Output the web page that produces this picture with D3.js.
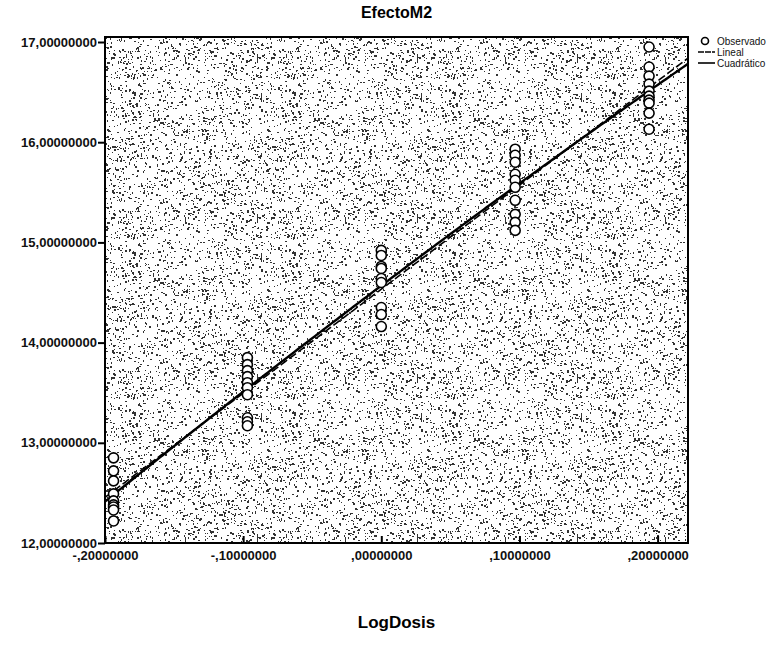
<!DOCTYPE html>
<html lang="es">
<head>
  <meta charset="UTF-8">
  <title>EfectoM2</title>
  <script src="https://d3js.org/d3.v7.min.js"></script>
  <style>
    body { margin: 0; background: #fff; }
    svg { display: block; font-family: "Liberation Sans", Arial, sans-serif; }
    .tick text { font-size: 13px; font-weight: bold; fill: #111; }
  </style>
</head>
<body>
  <script>
    // LogDosis levels (log10 of doses in ratio 1.25)
    const dosisLevels = [-0.19382, -0.09691, 0, 0.09691, 0.19382];

    const obsLevel1 = [12.85, 12.72, 12.62, 12.49, 12.42, 12.38, 12.36, 12.33, 12.22];
    const obsLevel2 = [13.85, 13.78, 13.72, 13.66, 13.60, 13.55, 13.48, 13.25, 13.21, 13.17];
    const obsLevel3 = [14.92, 14.87, 14.76, 14.74, 14.64, 14.60, 14.35, 14.28, 14.16];
    const obsLevel4 = [15.93, 15.87, 15.80, 15.68, 15.62, 15.55, 15.42, 15.28, 15.20, 15.12];
    const obsLevel5 = [16.95, 16.75, 16.66, 16.58, 16.51, 16.46, 16.42, 16.39, 16.29, 16.13];

    const xTicks = [-0.2, -0.1, 0, 0.1, 0.2];
    const yTicks = [12, 13, 14, 15, 16, 17];
    const legendLabels = ["Observado", "Lineal", "Cuadrático"];

    const points = [];
    [obsLevel1, obsLevel2, obsLevel3, obsLevel4, obsLevel5].forEach((vals, i) => {
      vals.forEach(v => points.push({ x: dosisLevels[i], y: v }));
    });

    const width = 778, height = 654;
    const margin = { top: 37, right: 90, bottom: 111, left: 105 };
    const innerW = width - margin.left - margin.right;
    const innerH = height - margin.top - margin.bottom;

    const x = d3.scaleLinear().domain([-0.2, 0.222]).range([0, innerW]);
    const y = d3.scaleLinear().domain([12, 17.05]).range([innerH, 0]);

    const fmt = d => {
      const s = Math.abs(d).toFixed(8).replace(".", ",");
      const t = Math.abs(d) < 1 ? s.replace(/^0/, "") : s;
      return (d < 0 ? "-" : "") + t;
    };

    // least squares fits (linear and quadratic)
    function polyFit(pts, degree) {
      const n = degree + 1;
      const A = Array.from({ length: n }, () => new Array(n + 1).fill(0));
      pts.forEach(p => {
        for (let r = 0; r < n; r++) {
          for (let c = 0; c < n; c++) A[r][c] += Math.pow(p.x, r + c);
          A[r][n] += p.y * Math.pow(p.x, r);
        }
      });
      for (let i = 0; i < n; i++) {
        for (let k = i + 1; k < n; k++) {
          const f = A[k][i] / A[i][i];
          for (let j = i; j <= n; j++) A[k][j] -= f * A[i][j];
        }
      }
      const coef = new Array(n).fill(0);
      for (let i = n - 1; i >= 0; i--) {
        let s = A[i][n];
        for (let j = i + 1; j < n; j++) s -= A[i][j] * coef[j];
        coef[i] = s / A[i][i];
      }
      return xv => coef.reduce((acc, c, i) => acc + c * Math.pow(xv, i), 0);
    }
    const linFit = polyFit(points, 1);
    const quadFit = polyFit(points, 2);

    const svg = d3.select("body").append("svg")
      .attr("width", width)
      .attr("height", height);

    // stipple texture (seeded, so the picture is the same every time)
    const tile = 160;
    const defs = svg.append("defs");
    const pat = defs.append("pattern")
      .attr("id", "stipple")
      .attr("patternUnits", "userSpaceOnUse")
      .attr("width", tile).attr("height", tile);
    pat.append("rect").attr("width", tile).attr("height", tile).attr("fill", "#fff");
    let seed = 987654321;
    function rnd() {
      seed |= 0; seed = seed + 0x6D2B79F5 | 0;
      let t = Math.imul(seed ^ seed >>> 15, 1 | seed);
      t = t + Math.imul(t ^ t >>> 7, 61 | t) ^ t;
      return ((t ^ t >>> 14) >>> 0) / 4294967296;
    }
    let dots = "";
    for (let i = 0; i < 1700; i++) {
      const px = Math.floor(rnd() * tile), py = Math.floor(rnd() * tile);
      const w = rnd() < 0.6 ? 1 : 2, h = rnd() < 0.6 ? 1 : 2;
      dots += `M${px},${py}h${w}v${h}h${-w}z`;
    }
    pat.append("path").attr("d", dots).attr("fill", "#333");

    const g = svg.append("g").attr("transform", `translate(${margin.left},${margin.top})`);

    g.append("rect")
      .attr("width", innerW).attr("height", innerH)
      .attr("fill", "url(#stipple)");

    const clip = defs.append("clipPath").attr("id", "plotClip");
    clip.append("rect").attr("width", innerW).attr("height", innerH);

    const xs = d3.range(-0.2, 0.2221, 0.002);
    const lineGen = f => d3.line().x(d => x(d)).y(d => y(f(d)))(xs);

    const lines = g.append("g").attr("clip-path", "url(#plotClip)");
    lines.append("path")
      .attr("d", lineGen(quadFit))
      .attr("fill", "none").attr("stroke", "#000").attr("stroke-width", 2.4);
    lines.append("path")
      .attr("d", lineGen(linFit))
      .attr("fill", "none").attr("stroke", "#000").attr("stroke-width", 1.6)
      .attr("stroke-dasharray", "8,3");

    g.append("g").selectAll("circle")
      .data(points)
      .enter().append("circle")
      .attr("cx", d => x(d.x))
      .attr("cy", d => y(d.y))
      .attr("r", 5)
      .attr("fill", "#fff")
      .attr("stroke", "#000")
      .attr("stroke-width", 1.6);

    g.append("rect")
      .attr("width", innerW).attr("height", innerH)
      .attr("fill", "none").attr("stroke", "#000").attr("stroke-width", 2);

    const xAxis = g.append("g")
      .attr("transform", `translate(0,${innerH})`)
      .call(d3.axisBottom(x).tickValues(xTicks).tickFormat(fmt).tickSize(7).tickPadding(1));
    xAxis.select(".domain").remove();
    xAxis.selectAll(".tick line").attr("stroke-width", 2).attr("transform", "translate(0,-7)");

    const yAxis = g.append("g")
      .call(d3.axisLeft(y).tickValues(yTicks).tickFormat(fmt).tickSize(7).tickPadding(1));
    yAxis.select(".domain").remove();
    yAxis.selectAll(".tick line").attr("stroke-width", 2);

    svg.append("text")
      .attr("x", margin.left + innerW / 2).attr("y", 18)
      .attr("text-anchor", "middle")
      .attr("font-size", 16).attr("font-weight", "bold")
      .text("EfectoM2");

    svg.append("text")
      .attr("x", margin.left + innerW / 2).attr("y", 628)
      .attr("text-anchor", "middle")
      .attr("font-size", 17).attr("font-weight", "bold")
      .text("LogDosis");

    // legend
    const rowH = 11;
    const lg = svg.append("g").attr("transform", `translate(${margin.left + innerW + 10},41)`);
    lg.append("circle").attr("cx", 7).attr("cy", 0).attr("r", 3.5)
      .attr("fill", "#fff").attr("stroke", "#000").attr("stroke-width", 1.6);
    lg.append("line").attr("x1", 0).attr("x2", 17).attr("y1", rowH).attr("y2", rowH)
      .attr("stroke", "#000").attr("stroke-width", 1.4).attr("stroke-dasharray", "6,1");
    lg.append("line").attr("x1", 0).attr("x2", 17).attr("y1", rowH * 2).attr("y2", rowH * 2)
      .attr("stroke", "#000").attr("stroke-width", 1.6);
    lg.selectAll("text.lab")
      .data(legendLabels)
      .enter().append("text")
      .attr("class", "lab")
      .attr("x", 19).attr("y", (d, i) => i * rowH + 3.5)
      .attr("font-size", 10).attr("fill", "#111")
      .text(d => d);
  </script>
</body>
</html>
